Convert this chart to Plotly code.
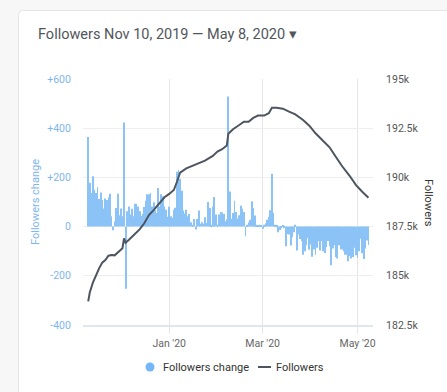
import pandas as pd
import plotly.graph_objects as go

# ---------------- data ----------------
start_date = "2019-11-10"
end_date = "2020-05-08"

followers_change = [
    364, 178, 137, 205, 150, 137, 160, 112, 139, 108, 74, 114, 108, 119, 134, 42, -15, 22, 76, 134, 46, 74, 42,
    423, -253, 62,
    82, 49, 73, 42, 93, 93, 82, 62, 43, 51, 80, 105, 132, 132, 137, 82, 99, 66, 55, 157, 82, 132, 123, 82, 69, 40,
    81, 42, 35, 69, 77, 223, 231, 195, 146, 65, 53, 69, 42, 51, 18, 8, 31, -12, 31, 65, 12, 18, 12, 38, 15,
    100, 76, 8, 82, 120, 49, 8, 49, 60, 58, 51, 22, 30,
    529, 143, 32, 55, 105, 59, 32, 46, 85, 73, 59, -39, 8, 18, 28, 103, 76, 45, 8, 4, 8, 4, -9, 8, 14, 28, 40, 66,
    215, 55, 8, 4, -23, -14, -8, 3, -2, -80, -30, -32, -77, -43, -23, 8, -97, -32, -50, -59,
    -114, -100, -76, -46, -93, -73, -123, -93, -114, -86, -59, -97, -59, -100, -107, -84, -59, -80, -157, -89,
    -76, -124, -130, -76, -93, -93, -100, -114, -114, -141, -120, -130, -124, -86, -116, -127, -100, -49, -108, -132,
    -89, -57, -75,
]

followers_dates = [
    "2019-11-10", "2019-11-11", "2019-11-13", "2019-11-15", "2019-11-17", "2019-11-19", "2019-11-21",
    "2019-11-23", "2019-11-25", "2019-11-27", "2019-11-28", "2019-11-30", "2019-12-02", "2019-12-03",
    "2019-12-04", "2019-12-06", "2019-12-09", "2019-12-13", "2019-12-16", "2019-12-19", "2019-12-22",
    "2019-12-25", "2019-12-29", "2020-01-01", "2020-01-04", "2020-01-06", "2020-01-08", "2020-01-12",
    "2020-01-16", "2020-01-20", "2020-01-24", "2020-01-29", "2020-02-01", "2020-02-04", "2020-02-07",
    "2020-02-08", "2020-02-11", "2020-02-15", "2020-02-18", "2020-02-21", "2020-02-24", "2020-02-27",
    "2020-03-02", "2020-03-05", "2020-03-07", "2020-03-10", "2020-03-14", "2020-03-18", "2020-03-22",
    "2020-03-27", "2020-03-31", "2020-04-04", "2020-04-08", "2020-04-13", "2020-04-17", "2020-04-21",
    "2020-04-26", "2020-04-30", "2020-05-04", "2020-05-08",
]
followers = [
    183700, 184150, 184650, 185040, 185380, 185670, 185800,
    186020, 186060, 186040, 186120, 186280, 186400, 186900,
    186680, 186820, 187070, 187360, 187670, 188090, 188340,
    188620, 188990, 189160, 189360, 189780, 190240, 190460,
    190600, 190720, 190850, 191090, 191310, 191430, 191620,
    192220, 192450, 192660, 192830, 192830, 193020, 193140,
    193140, 193260, 193540, 193540, 193490, 193340, 193200,
    192920, 192630, 192240, 191900, 191530, 191050, 190580,
    190070, 189610, 189270, 188970,
]

x_tick_vals = ["2020-01-01", "2020-03-01", "2020-05-01"]
x_tick_text = ["Jan '20", "Mar '20", "May '20"]
left_tick_vals = [-400, -200, 0, 200, 400, 600]
left_tick_text = ["-400", "-200", "0", "+200", "+400", "+600"]
right_tick_vals = [182500, 185000, 187500, 190000, 192500, 195000]
right_tick_text = ["182.5k", "185k", "187.5k", "190k", "192.5k", "195k"]

title_text = "Followers Nov 10, 2019 \u2014 May 8, 2020 \u25BE"

# ---------------- layout geometry ----------------
WIDTH, HEIGHT = 447, 392
L, R, T, B = 83, 74, 79, 67
W = WIDTH - L - R
H = HEIGHT - T - B


def px(xp):
    return (xp - L) / W


def py(yp):
    return (T + H - yp) / H


BAR_COLOR = "#8cc3f7"
LINE_COLOR = "#4d5560"
FONT = "Roboto"
OUTER_BG = "#f7f7f7"

dates = pd.date_range(start_date, end_date, freq="D")

fig = go.Figure()
fig.add_trace(go.Bar(
    x=dates, y=followers_change, name="Followers change",
    marker=dict(color=BAR_COLOR, line=dict(width=0)),
    showlegend=False, yaxis="y",
))
fig.add_trace(go.Scatter(
    x=followers_dates, y=followers, name="Followers", mode="lines",
    line=dict(color=LINE_COLOR, width=2), showlegend=False, yaxis="y2",
))

# card background with rounded top-left corner
x0c, x1c, y0c, y1c = px(18.5), px(470), py(420), py(10.5)
rx, ry = 5 / W, 5 / H
card_path = (f"M {x0c},{y0c} L {x0c},{y1c - ry} Q {x0c},{y1c} {x0c + rx},{y1c} "
             f"L {x1c},{y1c} L {x1c},{y0c} Z")

shapes = [
    dict(type="path", xref="paper", yref="paper", path=card_path,
         fillcolor="white", line=dict(color="#e4e4e4", width=1), layer="below"),
    dict(type="circle", xref="paper", yref="paper",
         x0=px(145.5), x1=px(154.5), y0=py(371.5), y1=py(362.5),
         fillcolor="#74b6f7", line=dict(width=0)),
    dict(type="line", xref="paper", yref="paper",
         x0=px(258), x1=px(271), y0=py(367), y1=py(367),
         line=dict(color=LINE_COLOR, width=2)),
]

annotations = [
    dict(text=title_text, x=px(36), y=py(35), xref="paper", yref="paper",
         xanchor="left", yanchor="middle", showarrow=False,
         font=dict(family=FONT, size=14.5, color="#51565c")),
    dict(text="Followers change", x=px(35), y=py(202), xref="paper", yref="paper",
         xanchor="center", yanchor="middle", showarrow=False, textangle=-90,
         font=dict(family=FONT, size=11, color="#7fb6ee")),
    dict(text="Followers", x=px(429), y=py(203), xref="paper", yref="paper",
         xanchor="center", yanchor="middle", showarrow=False, textangle=90,
         font=dict(family=FONT, size=11, color="#333333")),
    dict(text="Followers change", x=px(161), y=py(367), xref="paper", yref="paper",
         xanchor="left", yanchor="middle", showarrow=False,
         font=dict(family=FONT, size=11, color="#333333")),
    dict(text="Followers", x=px(274), y=py(367), xref="paper", yref="paper",
         xanchor="left", yanchor="middle", showarrow=False,
         font=dict(family=FONT, size=11, color="#333333")),
]

fig.update_layout(
    width=WIDTH, height=HEIGHT,
    margin=dict(l=L, r=R, t=T, b=B, pad=0),
    paper_bgcolor=OUTER_BG, plot_bgcolor="white",
    showlegend=False, bargap=0.45,
    font=dict(family=FONT, size=10.5, color="#666666"),
    xaxis=dict(
        type="date", range=["2019-11-06 15:36", "2020-05-10 21:50"],
        tickvals=x_tick_vals, ticktext=x_tick_text,
        showgrid=True, gridcolor="#e6e6e6", gridwidth=1,
        ticks="outside", ticklen=7, tickcolor="#e6e6e6", tickwidth=1,
        showline=True, linecolor="#e1e5ec", linewidth=2,
        tickfont=dict(family=FONT, size=10.5, color="#666666"),
        zeroline=False, fixedrange=True,
    ),
    yaxis=dict(
        range=[-400, 600], tickvals=left_tick_vals, ticktext=left_tick_text,
        showgrid=True, gridcolor="#eeeeee", gridwidth=1, zeroline=False,
        ticks="outside", ticklen=9, tickcolor="rgba(0,0,0,0)",
        tickfont=dict(family=FONT, size=10.5, color="#7fb6ee"),
        showline=False, fixedrange=True,
    ),
    yaxis2=dict(
        range=[182500, 195000], tickvals=right_tick_vals, ticktext=right_tick_text,
        overlaying="y", side="right", showgrid=False, zeroline=False,
        ticks="outside", ticklen=10, tickcolor="rgba(0,0,0,0)",
        tickfont=dict(family=FONT, size=10.5, color="#555555"),
        showline=False, fixedrange=True,
    ),
    shapes=shapes, annotations=annotations,
)

body_fix = ("document.body.style.margin='0';document.body.style.padding='0';"
            "document.body.style.overflow='hidden';"
            f"document.body.style.background='{OUTER_BG}';")
fig.write_html("out.html", post_script=body_fix,
               config={"displayModeBar": False, "responsive": False})
